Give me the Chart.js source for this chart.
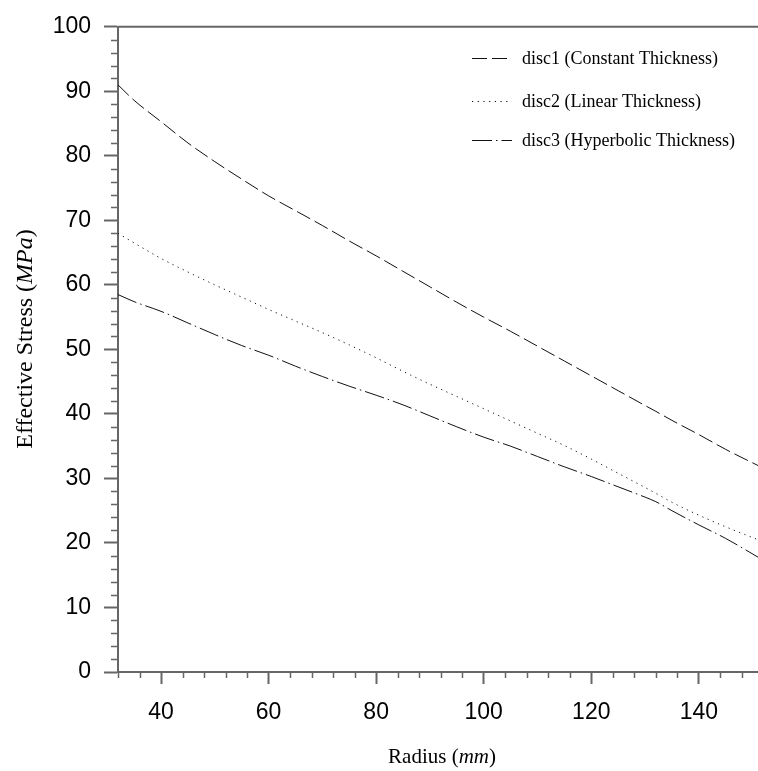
<!DOCTYPE html>
<html>
<head>
<meta charset="utf-8">
<script src="https://cdn.jsdelivr.net/npm/chart.js@4.4.0/dist/chart.umd.min.js"></script>
<style>
  html, body { margin: 0; padding: 0; background: #fff; }
  canvas { display: block; }
</style>
</head>
<body>
<canvas id="chart" width="758" height="771"></canvas>
<script>
// radius (mm) and effective stress (MPa)
const radius = [32, 35, 40, 45, 50, 55, 60, 65, 70, 75, 80, 85, 90, 95, 100, 105, 110, 115, 120, 125, 130, 132, 135, 140, 145, 151];
const disc1  = [91.0, 88.6, 85.3, 82.0, 79.1, 76.4, 73.8, 71.5, 69.2, 66.8, 64.5, 62.1, 59.7, 57.3, 55.0, 52.8, 50.5, 48.2, 45.9, 43.6, 41.3, 40.4, 39.0, 36.8, 34.5, 32.0];
const disc2  = [68.0, 66.5, 64.1, 62.0, 60.0, 58.1, 56.2, 54.4, 52.6, 50.7, 48.7, 46.6, 44.6, 42.7, 40.8, 38.9, 37.0, 35.1, 33.0, 30.8, 28.6, 27.7, 26.3, 24.3, 22.5, 20.5];
const disc3  = [58.5, 57.4, 55.9, 54.1, 52.3, 50.6, 49.1, 47.4, 45.8, 44.3, 42.9, 41.4, 39.7, 38.0, 36.4, 35.0, 33.4, 31.8, 30.3, 28.7, 27.1, 26.4, 25.0, 22.8, 20.7, 17.8];

const labels = ['disc1 (Constant Thickness)', 'disc2 (Linear Thickness)', 'disc3 (Hyperbolic Thickness)'];
const xTitle = ['Radius (', 'mm', ')'];
const yTitle = ['Effective Stress (', 'MPa', ')'];

const AXIS = '#666';
const LINE = '#111';
const dashes = [[15, 5], [1.2, 4.5], [20, 4, 1.5, 4]];

const pts = arr => radius.map((r, i) => ({ x: r, y: arr[i] }));

// minor ticks, top border, axis titles with italic units, legend
const extras = {
  id: 'extras',
  afterDraw(chart) {
    const { ctx, chartArea: a, scales: { x, y } } = chart;
    ctx.save();
    ctx.strokeStyle = AXIS;
    ctx.lineWidth = 1.5;
    ctx.beginPath();
    for (let v = 32; v <= 151; v += 4) {
      if (v % 20 === 0) continue;
      const px = Math.round(x.getPixelForValue(v)) + 0.5;
      ctx.moveTo(px, a.bottom); ctx.lineTo(px, a.bottom + 6);
    }
    for (let v = 2; v < 100; v += 2) {
      if (v % 10 === 0) continue;
      const py = Math.round(y.getPixelForValue(v)) + 0.5;
      ctx.moveTo(a.left, py); ctx.lineTo(a.left - 7, py);
    }
    ctx.stroke();

    // top border
    ctx.lineWidth = 2;
    ctx.beginPath();
    ctx.moveTo(a.left, a.top); ctx.lineTo(a.right, a.top);
    ctx.stroke();

    // axis titles
    ctx.fillStyle = '#000';
    ctx.textBaseline = 'alphabetic';
    const mixed = (parts, size) => {
      const fonts = parts.map((_, i) => (i === 1 ? 'italic ' : '') + size + 'px "Liberation Serif", "Times New Roman", serif');
      const w = parts.map((p, i) => { ctx.font = fonts[i]; return ctx.measureText(p).width; });
      return { fonts, w, total: w.reduce((s, v) => s + v, 0) };
    };
    let m = mixed(xTitle, 21);
    let cx = 442 - m.total / 2;
    xTitle.forEach((p, i) => { ctx.font = m.fonts[i]; ctx.textAlign = 'left'; ctx.fillText(p, cx, 763); cx += m.w[i]; });

    ctx.save();
    ctx.translate(32, 339);
    ctx.rotate(-Math.PI / 2);
    m = mixed(yTitle, 24);
    cx = -m.total / 2;
    yTitle.forEach((p, i) => { ctx.font = m.fonts[i]; ctx.textAlign = 'left'; ctx.fillText(p, cx, 0); cx += m.w[i]; });
    ctx.restore();

    // legend
    const rows = [58, 101, 140];
    ctx.font = '18px "Liberation Serif", "Times New Roman", serif';
    ctx.textBaseline = 'middle';
    chart.data.datasets.forEach((ds, i) => {
      ctx.strokeStyle = LINE;
      ctx.lineWidth = 1;
      ctx.setLineDash(ds.borderDash);
      ctx.beginPath();
      ctx.moveTo(472, rows[i] + 0.5); ctx.lineTo(512, rows[i] + 0.5);
      ctx.stroke();
      ctx.setLineDash([]);
      ctx.fillText(ds.label, 522, rows[i] + 1);
    });
    ctx.restore();
  }
};

new Chart(document.getElementById('chart'), {
  type: 'line',
  data: {
    datasets: [disc1, disc2, disc3].map((arr, i) => ({
      label: labels[i],
      data: pts(arr),
      borderColor: LINE,
      borderWidth: 1,
      borderDash: dashes[i],
      pointRadius: 0,
      cubicInterpolationMode: 'monotone',
      fill: false
    }))
  },
  options: {
    responsive: false,
    animation: false,
    layout: { padding: { top: 16, right: 0, left: 0, bottom: 0 } },
    plugins: { legend: { display: false }, tooltip: { enabled: false } },
    scales: {
      x: {
        type: 'linear',
        min: 32,
        max: 151,
        afterFit(s) { s.height = 99; },
        ticks: {
          stepSize: 20,
          includeBounds: false,
          padding: 15,
          color: '#000',
          font: { family: '"Liberation Sans", Arial, sans-serif', size: 23 }
        },
        grid: { drawOnChartArea: false, tickLength: 12, tickColor: AXIS, tickWidth: 2 },
        border: { color: AXIS, width: 2 }
      },
      y: {
        min: 0,
        max: 100,
        afterFit(s) { s.width = 118; },
        ticks: {
          stepSize: 10,
          padding: 13,
          color: '#000',
          font: { family: '"Liberation Sans", Arial, sans-serif', size: 23 }
        },
        grid: { drawOnChartArea: false, tickLength: 14, tickColor: AXIS, tickWidth: 2 },
        border: { color: AXIS, width: 2 }
      }
    }
  },
  plugins: [extras]
});
</script>
</body>
</html>
